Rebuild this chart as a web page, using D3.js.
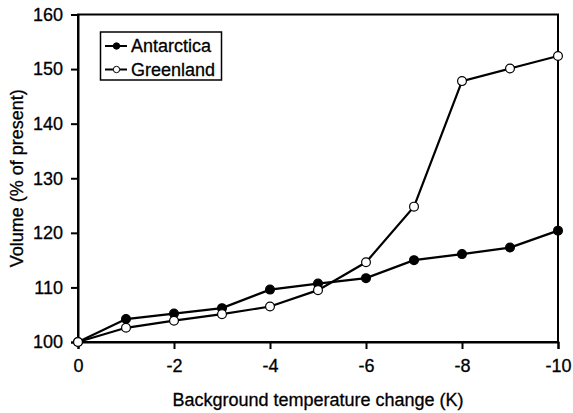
<!DOCTYPE html>
<html>
<head>
<meta charset="utf-8">
<script src="https://cdn.jsdelivr.net/npm/d3@7"></script>
<style>
  html, body { margin: 0; padding: 0; background: #fff; }
  svg { display: block; font-family: "Liberation Sans", Arial, sans-serif; }
  svg text { stroke: #000; stroke-width: 0.3px; }
</style>
</head>
<body>
<svg id="chart" width="573" height="413"></svg>
<script>
// Temperature change steps (K) and ice volume (% of present)
const temps = [0, -1, -2, -3, -4, -5, -6, -7, -8, -9, -10];
const antarctica = [100, 104.2, 105.2, 106.2, 109.6, 110.7, 111.7, 115.0, 116.1, 117.3, 120.4];
const greenland = [100, 102.6, 103.9, 105.1, 106.5, 109.5, 114.6, 124.8, 147.8, 150.1, 152.4];
const xTicks = [0, -2, -4, -6, -8, -10];
const yTicks = [100, 110, 120, 130, 140, 150, 160];
const seriesNames = ["Antarctica", "Greenland"];

const svg = d3.select("#chart");
const plot = { left: 78, right: 558, top: 14.5, bottom: 342 };

const x = d3.scaleLinear().domain([0, -10]).range([plot.left, plot.right]);
const y = d3.scaleLinear().domain([100, 160]).range([plot.bottom, plot.top]);

const fontSize = 18;

// Frame around the plot area
svg.append("rect")
  .attr("x", plot.left).attr("y", plot.top)
  .attr("width", plot.right - plot.left).attr("height", plot.bottom - plot.top)
  .attr("fill", "none").attr("stroke", "#000").attr("stroke-width", 2);

// Axes
const xAxis = svg.append("g")
  .attr("transform", `translate(0,${plot.bottom})`)
  .call(d3.axisBottom(x).tickValues(xTicks).tickSize(7).tickPadding(10).tickFormat(d => String(d)));
const yAxis = svg.append("g")
  .attr("transform", `translate(${plot.left},0)`)
  .call(d3.axisLeft(y).tickValues(yTicks).tickSize(7).tickPadding(8).tickFormat(d => String(d)));

[xAxis, yAxis].forEach(g => {
  g.select(".domain").attr("stroke-width", 2);
  g.selectAll(".tick line").attr("stroke-width", 2);
  g.selectAll("text").attr("font-size", fontSize)
    .attr("font-family", "'Liberation Sans', Arial, sans-serif").attr("fill", "#000");
});

// Axis titles
svg.append("text")
  .attr("x", (plot.left + plot.right) / 2).attr("y", 406)
  .attr("text-anchor", "middle").attr("font-size", fontSize)
  .text("Background temperature change (K)");
svg.append("text")
  .attr("transform", `translate(23,${(plot.top + plot.bottom) / 2}) rotate(-90)`)
  .attr("text-anchor", "middle").attr("font-size", fontSize)
  .text("Volume (% of present)");

// Series
const line = d3.line().x((d, i) => x(temps[i])).y(d => y(d));
const series = [
  { name: seriesNames[0], values: antarctica, fill: "#000", width: 2.3 },
  { name: seriesNames[1], values: greenland, fill: "#fff", width: 2.2 }
];

series.forEach(s => {
  svg.append("path").datum(s.values)
    .attr("d", line).attr("fill", "none")
    .attr("stroke", "#000").attr("stroke-width", s.width);
});
series.forEach(s => {
  svg.append("g").selectAll("circle").data(s.values).join("circle")
    .attr("cx", (d, i) => x(temps[i])).attr("cy", d => y(d))
    .attr("r", 4.4).attr("fill", s.fill)
    .attr("stroke", "#000").attr("stroke-width", 1.2);
});

// Legend
const legend = svg.append("g");
legend.append("rect")
  .attr("x", 100.5).attr("y", 32).attr("width", 121).attr("height", 48)
  .attr("fill", "#fff").attr("stroke", "#000").attr("stroke-width", 1.5);
series.forEach((s, i) => {
  const cy = 46 + i * 23.5;
  legend.append("line").attr("x1", 105).attr("x2", 127).attr("y1", cy).attr("y2", cy)
    .attr("stroke", "#000").attr("stroke-width", 2);
  legend.append("circle").attr("cx", 116.5).attr("cy", cy).attr("r", 3.2)
    .attr("fill", s.fill).attr("stroke", "#000").attr("stroke-width", 1);
  legend.append("text").attr("x", 131).attr("y", cy).attr("dy", "0.35em")
    .attr("font-size", fontSize).text(s.name);
});
</script>
</body>
</html>
